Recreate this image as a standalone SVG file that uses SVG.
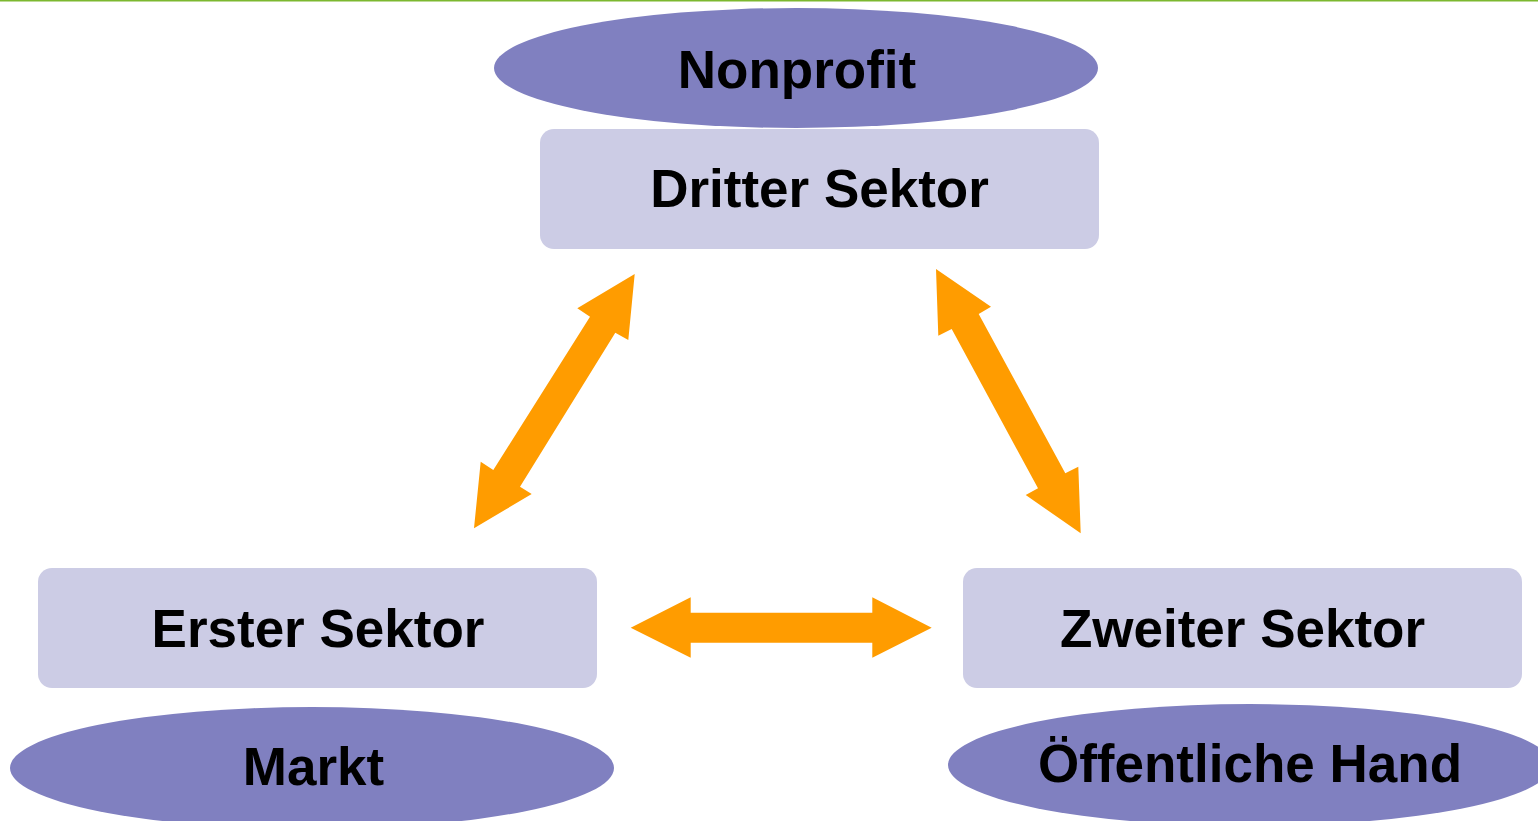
<svg xmlns="http://www.w3.org/2000/svg" width="1538" height="821" viewBox="0 0 1538 821">
<style>
.ell{fill:#8080C0}
.box{fill:#CCCCE5}
.arr{fill:#FF9C00}
text{font-family:"Liberation Sans",Arial,sans-serif;font-weight:bold;font-size:53px;fill:#000;text-anchor:middle}
</style>
<rect x="0" y="0" width="1538" height="821" fill="#fff"/>
<line x1="0" y1="0.75" x2="1538" y2="0.75" stroke="#7CB82F" stroke-width="1.5"/>
<g id="nonprofit"><ellipse class="ell" cx="796" cy="68" rx="302" ry="60"/><text x="797" y="88">Nonprofit</text></g>
<g id="dritter"><rect class="box" x="540" y="129" width="559" height="120" rx="14"/><text x="819.5" y="207">Dritter Sektor</text></g>
<g id="erster"><rect class="box" x="38" y="568" width="559" height="120" rx="14"/><text x="318" y="647">Erster Sektor</text></g>
<g id="zweiter"><rect class="box" x="963" y="568" width="559" height="120" rx="14"/><text x="1242.5" y="647">Zweiter Sektor</text></g>
<g id="markt"><ellipse class="ell" cx="312" cy="768" rx="302" ry="61"/><text x="313.5" y="785">Markt</text></g>
<g id="oeffentlich"><ellipse class="ell" cx="1250" cy="765" rx="302" ry="61"/><text x="1250" y="782">Öffentliche Hand</text></g>
<g id="connectors">
<polygon class="arr" points="634.7,274 628.3,340 615.3,332.7 520,486.7 531.7,494 474,528.3 480.7,461.7 493.3,470 590,316.7 577.3,308.3"/>
<polygon class="arr" points="936,269 991,306.7 978.7,314 1065.3,473.3 1078.3,466.7 1080.7,533.3 1025.7,495 1038,488.3 951.7,329 938.3,335.7"/>
<polygon class="arr" points="630.7,627.7 690.7,597.3 690.7,612.7 872.3,612.7 872.3,597.3 931.7,627.7 872.3,657.7 872.3,642.7 690.7,642.7 690.7,657.7"/>
</g>
</svg>
